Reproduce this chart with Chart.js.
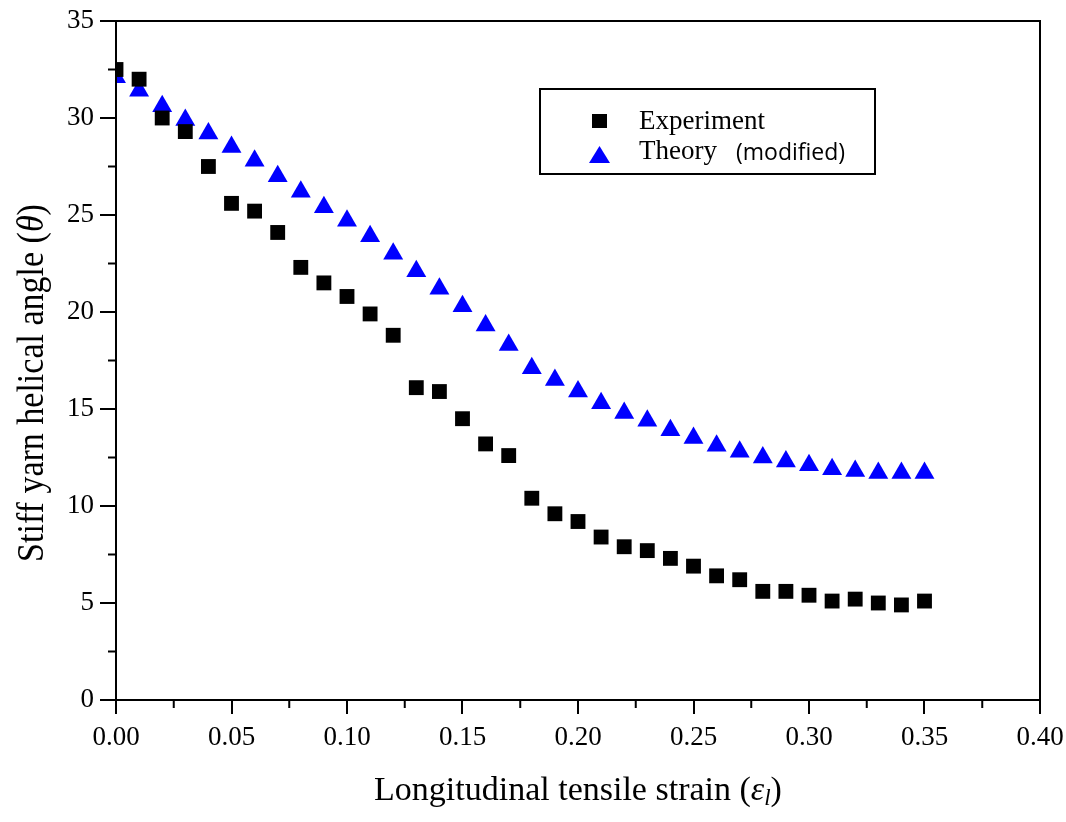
<!DOCTYPE html>
<html>
<head>
<meta charset="utf-8">
<script src="https://cdn.jsdelivr.net/npm/chart.js@4.4.1/dist/chart.umd.min.js"></script>
<style>
html,body{margin:0;padding:0;background:#fff;}
#wrap{width:1066px;height:822px;position:relative;}
</style>
</head>
<body>
<div id="wrap"><canvas id="chart"></canvas></div>
<script>

// strain values (x)
const strain = [0.00,0.01,0.02,0.03,0.04,0.05,0.06,0.07,0.08,0.09,
0.10,0.11,0.12,0.13,0.14,0.15,0.16,0.17,0.18,0.19,
0.20,0.21,0.22,0.23,0.24,0.25,0.26,0.27,0.28,0.29,
0.30,0.31,0.32,0.33,0.34,0.35]

const experiment = [32.5,32.0,30.0,29.3,27.5,25.6,25.2,24.1,22.3,21.5,
20.8,19.9,18.8,16.1,15.9,14.5,13.2,12.6,10.4,9.6,
9.2,8.4,7.9,7.7,7.3,6.9,6.4,6.2,5.6,5.6,
5.4,5.1,5.2,5.0,4.9,5.1]

const theory = [32.1,31.4,30.6,29.9,29.2,28.5,27.8,27.0,26.2,25.4,
24.7,23.9,23.0,22.1,21.2,20.3,19.3,18.3,17.1,16.5,
15.9,15.3,14.8,14.4,13.9,13.5,13.1,12.8,12.5,12.3,
12.1,11.9,11.8,11.7,11.7,11.7]

const xTicks = [0,0.05,0.10,0.15,0.20,0.25,0.30,0.35,0.40]
const yTicks = [0,5,10,15,20,25,30,35]

const serif = "'Liberation Serif', 'Times New Roman', serif"

const pts = (ys)=>strain.map((x,i)=>({x:x,y:ys[i]}))

// draws text pieces with different fonts one after another, centred on x
function drawPieces(ctx, pieces, cx, baseY){
let w = 0
pieces.forEach(p=>{ ctx.font=p.font; w += ctx.measureText(p.text).width })
let x = cx - w/2
ctx.textAlign="left"
ctx.textBaseline="alphabetic"
pieces.forEach(p=>{
ctx.font=p.font
ctx.fillText(p.text, x, baseY + (p.dy||0))
x += ctx.measureText(p.text).width
})
}

// frame, minor ticks and axis titles
const framePlugin = {
id:"frame",
afterDraw(chart){
const ctx = chart.ctx
const a = chart.chartArea
const xs = chart.scales.x
const ys = chart.scales.y
ctx.save()
ctx.strokeStyle="#000"
ctx.lineWidth=2
ctx.strokeRect(a.left,a.top,a.right-a.left,a.bottom-a.top)
ctx.beginPath()
for(let i=0;i<xTicks.length-1;i++){
const px = xs.getPixelForValue((xTicks[i]+xTicks[i+1])/2)
ctx.moveTo(px,a.bottom)
ctx.lineTo(px,a.bottom+8)
}
for(let i=0;i<yTicks.length-1;i++){
const py = ys.getPixelForValue((yTicks[i]+yTicks[i+1])/2)
ctx.moveTo(a.left,py)
ctx.lineTo(a.left-8,py)
}
ctx.stroke()

ctx.fillStyle="#000"
drawPieces(ctx,[
{text:"Longitudinal tensile strain (",font:"34px "+serif},
{text:"ε",font:"italic 34px "+serif},
{text:"l",font:"italic 23px "+serif,dy:5},
{text:")",font:"34px "+serif}
],(a.left+a.right)/2,800)

ctx.save()
ctx.translate(43,383)
ctx.rotate(-Math.PI/2)
ctx.scale(1,1.12)
drawPieces(ctx,[
{text:"Stiff yarn helical angle (",font:"34px "+serif},
{text:"θ",font:"italic 34px "+serif},
{text:")",font:"34px "+serif}
],0,0)
ctx.restore()

ctx.restore()
}
}

// legend box inside the plot
const legendPlugin = {
id:"boxLegend",
afterDraw(chart){
const ctx = chart.ctx
ctx.save()
ctx.strokeStyle="#000"
ctx.lineWidth=2
ctx.strokeRect(540,89,335,85)

ctx.fillStyle="#000"
ctx.fillRect(592,114,15,14)

ctx.fillStyle="#0000ff"
ctx.beginPath()
ctx.moveTo(599.5,146)
ctx.lineTo(610,163)
ctx.lineTo(589,163)
ctx.closePath()
ctx.fill()

ctx.fillStyle="#000"
ctx.textBaseline="alphabetic"
ctx.font="27px "+serif
ctx.fillText("Experiment",639,129)
ctx.fillText("Theory",639,159)
ctx.font="23px 'Open Sans', sans-serif"
ctx.fillText("(modified)",736,160)
ctx.restore()
}
}

new Chart(document.getElementById("chart"),{

type:"scatter",

data:{
datasets:[
{
label:"Experiment",
data:pts(experiment),
pointStyle:"rect",
pointRadius:10.5,
pointHoverRadius:10.5,
backgroundColor:"#000",
borderWidth:0
},
{
label:"Theory (modified)",
data:pts(theory),
pointStyle:"triangle",
pointRadius:11.5,
pointHoverRadius:11.5,
backgroundColor:"#0000ff",
borderWidth:0
}
]
},

options:{
responsive:true,
maintainAspectRatio:false,
animation:false,
events:[],
layout:{padding:{top:21,right:26,left:0,bottom:0}},
plugins:{
legend:{display:false},
tooltip:{enabled:false}
},
scales:{
x:{
type:"linear",
min:0,
max:0.4,
afterBuildTicks(s){ s.ticks = xTicks.map(v=>({value:v})) },
afterFit(s){ s.height = 122; s.paddingLeft = 0; s.paddingRight = 0 },
ticks:{
color:"#000",
padding:8,
font:{family:serif,size:27},
callback:(v)=>Number(v).toFixed(2),
maxRotation:0
},
grid:{
drawOnChartArea:false,
color:"#000",
lineWidth:2,
tickLength:14
},
border:{color:"#000",width:2}
},
y:{
type:"linear",
min:0,
max:35,
afterBuildTicks(s){ s.ticks = yTicks.map(v=>({value:v})) },
afterFit(s){ s.width = 116; s.paddingTop = 0; s.paddingBottom = 0 },
ticks:{
color:"#000",
padding:6,
font:{family:serif,size:27}
},
grid:{
drawOnChartArea:false,
color:"#000",
lineWidth:2,
tickLength:16
},
border:{color:"#000",width:2}
}
}
},

plugins:[framePlugin,legendPlugin]

})

</script>
</body>
</html>
